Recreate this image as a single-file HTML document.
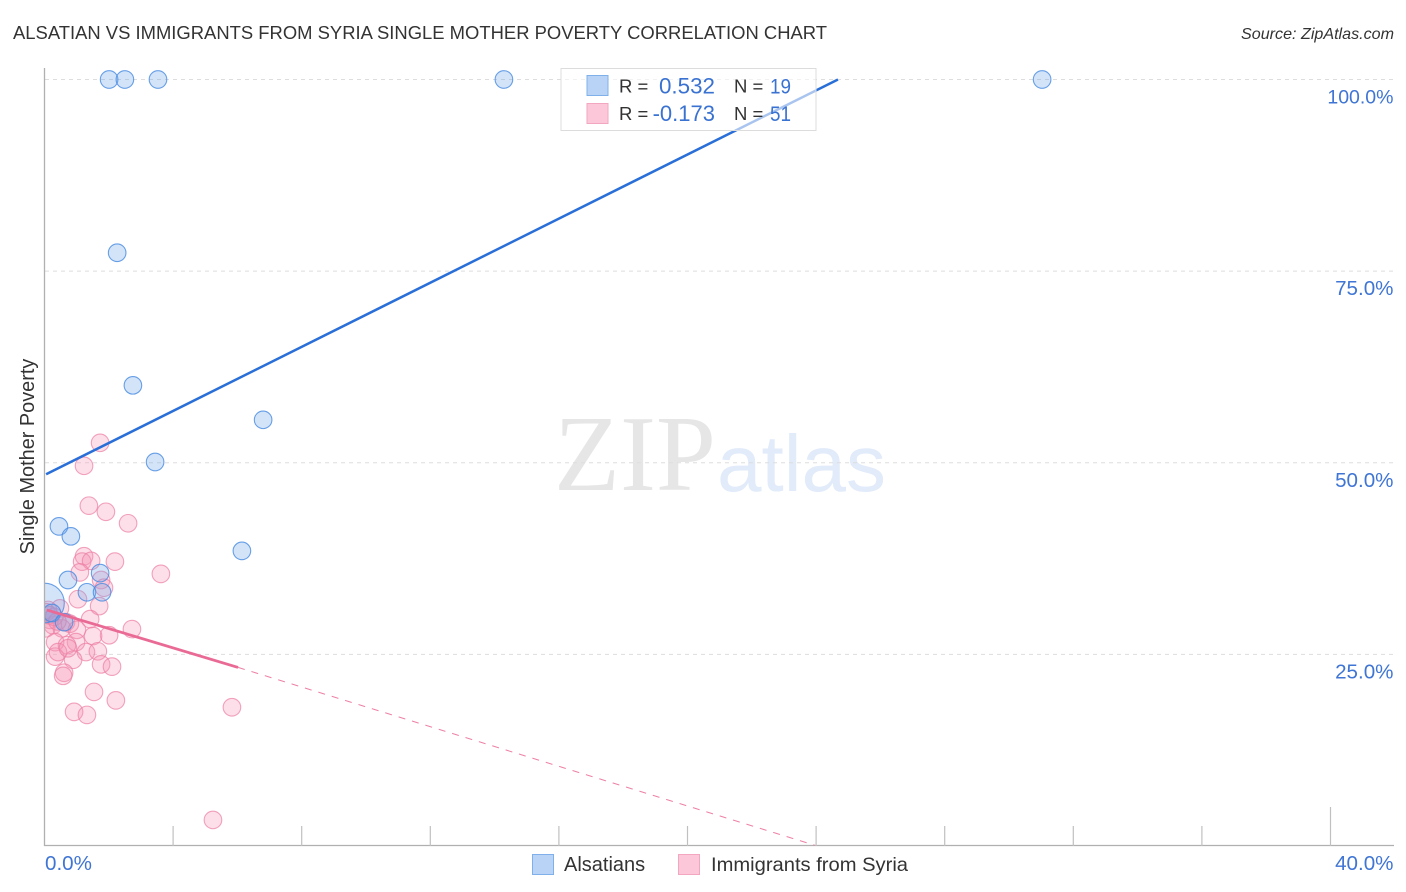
<!DOCTYPE html>
<html lang="en">
<head>
<meta charset="utf-8">
<title>Alsatian vs Immigrants from Syria Single Mother Poverty Correlation Chart</title>
<style>
  html, body { margin: 0; padding: 0; background: #fff; width: 1406px; height: 892px; overflow: hidden; }
  svg { display: block; font-family: "Liberation Sans", sans-serif; }
</style>
</head>
<body>
<svg id="chart" xmlns="http://www.w3.org/2000/svg" width="1406" height="892" viewBox="0 0 1406 892">
  <defs>
    <clipPath id="plot-clip"><rect x="44.5" y="60" width="1350" height="786"></rect></clipPath>
  </defs>
  <text x="13" y="39" font-size="18.5" fill="#333" textLength="814" lengthAdjust="spacingAndGlyphs">ALSATIAN VS IMMIGRANTS FROM SYRIA SINGLE MOTHER POVERTY CORRELATION CHART</text>
  <text x="1394" y="39" font-size="16.1" font-style="italic" fill="#333" text-anchor="end">Source: ZipAtlas.com</text>
  <g>
    <text x="554" y="490" font-family="'Liberation Serif', serif" font-size="108" fill="#e6e6e6">ZIP</text>
    <text x="717" y="491" font-size="80" fill="#e2ebfa">atlas</text>
  </g>
  <g id="grid"></g>
  <g id="pink-points" clip-path="url(#plot-clip)"></g>
  <g id="blue-points" clip-path="url(#plot-clip)"></g>
  <g id="axes"></g>
  <g id="trends" clip-path="url(#plot-clip)"></g>
  <text transform="translate(34 456.5) rotate(-90)" font-size="19.9" fill="#333" text-anchor="middle">Single Mother Poverty</text>
  <g id="y-labels"></g>
  <g id="x-labels"></g>

  <g>
    <rect x="561" y="68.5" width="255" height="62" fill="#fff" fill-opacity="0.6" stroke="#dcdcdc" stroke-width="1"></rect>
    <rect x="587" y="75.5" width="21" height="20" fill="#b8d3f6" stroke="#7fb0ea" stroke-width="1"></rect>
    <rect x="587" y="103.5" width="21" height="20" fill="#fcc8d9" stroke="#f2a6bf" stroke-width="1"></rect>
    <text x="619" y="92.5" font-size="18.5" fill="#333">R =</text>
    <text x="715" y="93.5" font-size="22.4" fill="#3a72d2" text-anchor="end">0.532</text>
    <text x="734" y="92.5" font-size="18.5" fill="#333">N =</text>
    <text x="770" y="93.5" font-size="21" fill="#3a72d2" textLength="21" lengthAdjust="spacingAndGlyphs">19</text>
    <text x="619" y="120" font-size="18.5" fill="#333">R =</text>
    <text x="715" y="121" font-size="22" fill="#3a72d2" text-anchor="end">-0.173</text>
    <text x="734" y="120" font-size="18.5" fill="#333">N =</text>
    <text x="770" y="121" font-size="21" fill="#3a72d2" textLength="21" lengthAdjust="spacingAndGlyphs">51</text>
  </g>

  <g>
    <g>
      <rect x="532.5" y="854.5" width="21" height="20" fill="#b8d3f6" stroke="#7fb0ea" stroke-width="1"></rect>
      <text x="564" y="871" font-size="20" fill="#333">Alsatians</text>
    </g>
    <g>
      <rect x="678.5" y="854.5" width="21" height="20" fill="#fcc8d9" stroke="#f2a6bf" stroke-width="1"></rect>
      <text x="711" y="871" font-size="19.5" fill="#333" textLength="197" lengthAdjust="spacingAndGlyphs">Immigrants from Syria</text>
    </g>
  </g>
</svg>
<script>
// Chart data (x = percent, y = percent)
const yTickValues = [100, 75, 50, 25];
const yTickLabels = ["100.0%", "75.0%", "50.0%", "25.0%"];
const xTickValues = [4, 8, 12, 16, 20, 24, 28, 32, 36, 40];
const xEndLabels = ["0.0%", "40.0%"];

const alsatianX = [2.01, 2.50, 3.53, 14.29, 31.03, 2.26, 2.75, 6.80, 3.44, 0.45, 0.82, 6.14, 0.73, 1.73, 1.32, 1.79, 0.00, 0.23, 0.61];
const alsatianY = [100, 100, 100, 100, 100, 77.4, 60.1, 55.6, 50.1, 41.7, 40.4, 38.5, 34.7, 35.6, 33.1, 33.1, 31.7, 30.4, 29.2];
const alsatianSize = [1, 1, 1, 1, 1, 1, 1, 1, 1, 1, 1, 1, 1, 1, 1, 1, 2.25, 1, 1];

const syriaX = [1.73, 1.23, 1.38, 1.91, 2.60, 1.23, 1.17, 1.45, 2.19, 1.10, 3.62, 1.76, 1.85, 1.04, 1.70, 1.42, 2.72, 0.48, 0.11, 0.17, 0.26, 0.05, 0.67, 0.79, 0.54, 1.01, 2.01, 1.51, 0.33, 0.98, 0.70, 1.29, 1.66, 0.89, 0.33, 0.42, 1.76, 2.10, 0.61, 0.58, 1.54, 2.22, 0.92, 1.32, 0.73, 5.83, 5.24, 0.05, 0.15, 0.30, 0.40];
const syriaY = [52.6, 49.6, 44.4, 43.6, 42.1, 37.8, 37.1, 37.2, 37.1, 35.7, 35.5, 34.7, 33.7, 32.2, 31.3, 29.6, 28.3, 31.0, 30.8, 29.5, 28.8, 28.4, 29.2, 29.0, 28.4, 28.2, 27.5, 27.4, 26.6, 26.6, 26.2, 25.3, 25.4, 24.3, 24.7, 25.3, 23.7, 23.4, 22.6, 22.2, 20.1, 19.0, 17.5, 17.1, 25.8, 18.1, 3.4, 30.5, 30.1, 29.9, 29.3];

const alsatianTrendX = [0.05, 24.68];
const alsatianTrendY = [48.5, 100];
const syriaTrendX = [0.07, 6.02];
const syriaTrendY = [30.8, 23.3];
const syriaDashX = [6.02, 23.96];
const syriaDashY = [23.3, 0.1];

// Axis functions
function xScale(v) { return 44.5 + v * 32.15; }
function yScale(v) { return 846 - v * 7.665; }

const SVGNS = 'http://www.w3.org/2000/svg';
function make(tag, parent) {
  const el = document.createElementNS(SVGNS, tag);
  parent.appendChild(el);
  return el;
}

const gridGroup = document.getElementById('grid');
yTickValues.forEach(function (v) {
  const line = make('line', gridGroup);
  
  
  line.setAttribute('x1', 45);
  line.setAttribute('x2', 1394);
  line.setAttribute('y1', yScale(v));
  line.setAttribute('y2', yScale(v));
  line.setAttribute('stroke', '#dddddd');
  line.setAttribute('stroke-width', 1);
  line.setAttribute('stroke-dasharray', '4 4');
});

function drawPoints(group, xs, ys, sizes, fill, stroke, name) {
  xs.forEach(function (x, i) {
    const c = make('circle', group);
    
    
    c.setAttribute('cx', xScale(x));
    c.setAttribute('cy', yScale(ys[i]));
    c.setAttribute('r', 8.8 * (sizes ? sizes[i] : 1));
    c.setAttribute('fill', fill);
    c.setAttribute('stroke', stroke);
    c.setAttribute('stroke-width', 1.1);
  });
}
drawPoints(document.getElementById('pink-points'), syriaX, syriaY, null, 'rgba(246,150,182,0.3)', 'rgba(236,125,162,0.7)', 'syria-point');
drawPoints(document.getElementById('blue-points'), alsatianX, alsatianY, alsatianSize, 'rgba(110,165,235,0.3)', 'rgba(70,138,225,0.8)', 'alsatian-point');

const axesGroup = document.getElementById('axes');
const yAxisLine = make('line', axesGroup);


yAxisLine.setAttribute('x1', 44.5);
yAxisLine.setAttribute('x2', 44.5);
yAxisLine.setAttribute('y1', 68);
yAxisLine.setAttribute('y2', 846);
yAxisLine.setAttribute('stroke', '#b0b0b0');
yAxisLine.setAttribute('stroke-width', 1.3);
const xAxisLine = make('line', axesGroup);


xAxisLine.setAttribute('x1', 44);
xAxisLine.setAttribute('x2', 1394);
xAxisLine.setAttribute('y1', 845.5);
xAxisLine.setAttribute('y2', 845.5);
xAxisLine.setAttribute('stroke', '#b0b0b0');
xAxisLine.setAttribute('stroke-width', 1.3);
xTickValues.forEach(function (v, i) {
  const t = make('line', axesGroup);
  
  
  t.setAttribute('x1', xScale(v));
  t.setAttribute('x2', xScale(v));
  t.setAttribute('y1', i === xTickValues.length - 1 ? 807 : 826);
  t.setAttribute('y2', 846);
  t.setAttribute('stroke', '#c0c0c0');
  t.setAttribute('stroke-width', 1.2);
});

function drawLine(group, xs, ys, stroke, width, dash, name) {
  const l = make('line', group);
  
  
  l.setAttribute('x1', xScale(xs[0]));
  l.setAttribute('y1', yScale(ys[0]));
  l.setAttribute('x2', xScale(xs[1]));
  l.setAttribute('y2', yScale(ys[1]));
  l.setAttribute('stroke', stroke);
  l.setAttribute('stroke-width', width);
  if (dash) { l.setAttribute('stroke-dasharray', dash); }
}
const trendGroup = document.getElementById('trends');
drawLine(trendGroup, syriaDashX, syriaDashY, '#ee80a4', 1, '7 7', 'syria-trend-extension');
drawLine(trendGroup, syriaTrendX, syriaTrendY, '#ea6a96', 2.8, null, 'syria-trend-line');
drawLine(trendGroup, alsatianTrendX, alsatianTrendY, '#2a6fd8', 2.5, null, 'alsatian-trend-line');

const yLabelGroup = document.getElementById('y-labels');
yTickLabels.forEach(function (label, i) {
  const t = make('text', yLabelGroup);
  
  
  t.setAttribute('x', 1393.5);
  t.setAttribute('y', yScale(yTickValues[i]) + 24);
  t.setAttribute('font-size', label.length > 5 ? 19.5 : 20.6);
  t.setAttribute('fill', '#3f75d4');
  t.setAttribute('text-anchor', 'end');
  t.textContent = label;
});

const xLabelGroup = document.getElementById('x-labels');
const xLeft = make('text', xLabelGroup);


xLeft.setAttribute('x', 45);
xLeft.setAttribute('y', 870);
xLeft.setAttribute('font-size', 20.6);
xLeft.setAttribute('fill', '#3f75d4');
xLeft.textContent = xEndLabels[0];
const xRight = make('text', xLabelGroup);


xRight.setAttribute('x', 1393.5);
xRight.setAttribute('y', 870);
xRight.setAttribute('font-size', 20.6);
xRight.setAttribute('fill', '#3f75d4');
xRight.setAttribute('text-anchor', 'end');
xRight.textContent = xEndLabels[1];
</script>
</body>
</html>
